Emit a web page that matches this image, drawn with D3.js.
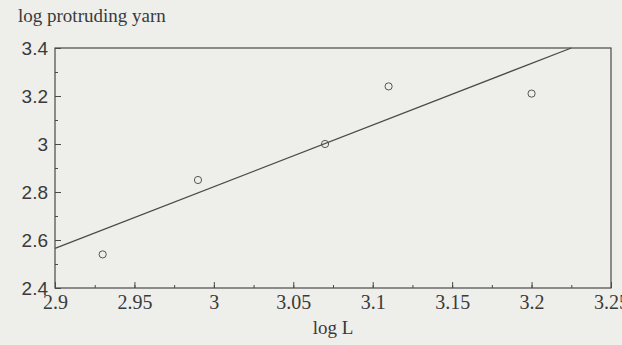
<!DOCTYPE html>
<html>
<head>
<meta charset="utf-8">
<script src="https://cdn.jsdelivr.net/npm/d3@7"></script>
<style>
  body { margin: 0; background: #eeeeeb; }
  svg { display: block; }
</style>
</head>
<body>
<script>
// data
const logL = [2.93, 2.99, 3.07, 3.11, 3.20];
const logYarn = [2.54, 2.85, 3.00, 3.24, 3.21];
// fitted line, endpoints as drawn (clipped at the top of the box)
const fitX = [2.9, 3.225];
const fitY = [2.565, 3.4];
const xTicks = [2.9, 2.95, 3, 3.05, 3.1, 3.15, 3.2, 3.25];
const yTicks = [2.4, 2.6, 2.8, 3, 3.2, 3.4];

const W = 622, H = 345;
const margin = {left: 55, right: 11, top: 48, bottom: 57};
const width = W - margin.left - margin.right,
      height = H - margin.top - margin.bottom;

const serif = "'Liberation Serif', 'Times New Roman', serif";
const sans = "'Liberation Sans', Arial, sans-serif";

const svg = d3.select("body").append("svg")
    .attr("width", W)
    .attr("height", H);

svg.append("rect").attr("width", W).attr("height", H).attr("fill", "#eeeeeb");

const x = d3.scaleLinear().domain([2.9, 3.25]).range([0, width]);
const y = d3.scaleLinear().domain([2.4, 3.4]).range([height, 0]);

const g = svg.append("g")
    .attr("transform", "translate(" + margin.left + "," + margin.top + ")");

const ink = "#4a4a4a";

// box
g.append("rect")
    .attr("width", width)
    .attr("height", height)
    .attr("fill", "none")
    .attr("stroke", ink)
    .attr("stroke-width", 1.2);

// minor ticks, inside
const xMinor = d3.range(0, 15).map(i => 2.9 + i * 0.025);
const yMinor = d3.range(0, 11).map(i => 2.4 + i * 0.1);

g.append("g")
    .attr("transform", "translate(0," + height + ")")
    .call(d3.axisBottom(x).tickValues(xMinor).tickSize(-3).tickFormat(""))
    .call(a => a.select(".domain").remove())
    .selectAll("line").attr("stroke", ink);

g.append("g")
    .call(d3.axisLeft(y).tickValues(yMinor).tickSize(-3).tickFormat(""))
    .call(a => a.select(".domain").remove())
    .selectAll("line").attr("stroke", ink);

// major x ticks and labels
const xAxis = g.append("g")
    .attr("transform", "translate(0," + height + ")")
    .call(d3.axisBottom(x).tickValues(xTicks).tickSize(-6).tickPadding(7)
        .tickFormat(d => d3.format("")(d)));
xAxis.select(".domain").remove();
xAxis.selectAll("line").attr("stroke", ink);
xAxis.selectAll("text")
    .style("font-family", serif)
    .style("font-size", "20px")
    .attr("fill", "#3a3a3a");

// major y ticks and labels
const yAxis = g.append("g")
    .call(d3.axisLeft(y).tickValues(yTicks).tickSize(-6).tickPadding(7)
        .tickFormat(d => d3.format("")(d)));
yAxis.select(".domain").remove();
yAxis.selectAll("line").attr("stroke", ink);
yAxis.selectAll("text")
    .style("font-family", sans)
    .style("font-size", "19px")
    .attr("fill", "#3a3a3a");

// regression line
g.append("line")
    .attr("x1", x(fitX[0])).attr("y1", y(fitY[0]))
    .attr("x2", x(fitX[1])).attr("y2", y(fitY[1]))
    .attr("stroke", ink)
    .attr("stroke-width", 1.3);

// points
g.selectAll(".pt")
    .data(logL.map((d, i) => [d, logYarn[i]]))
    .enter().append("circle")
    .attr("class", "pt")
    .attr("cx", d => x(d[0]))
    .attr("cy", d => y(d[1]))
    .attr("r", 3.6)
    .attr("fill", "none")
    .attr("stroke", "#555")
    .attr("stroke-width", 1);

// titles
svg.append("text")
    .attr("x", 18)
    .attr("y", 22)
    .style("font-family", serif)
    .style("font-size", "19px")
    .attr("fill", "#3a3a3a")
    .text("log protruding yarn");

svg.append("text")
    .attr("x", margin.left + width / 2)
    .attr("y", 334)
    .attr("text-anchor", "middle")
    .style("font-family", serif)
    .style("font-size", "19px")
    .attr("fill", "#3a3a3a")
    .text("log L");
</script>
</body>
</html>
